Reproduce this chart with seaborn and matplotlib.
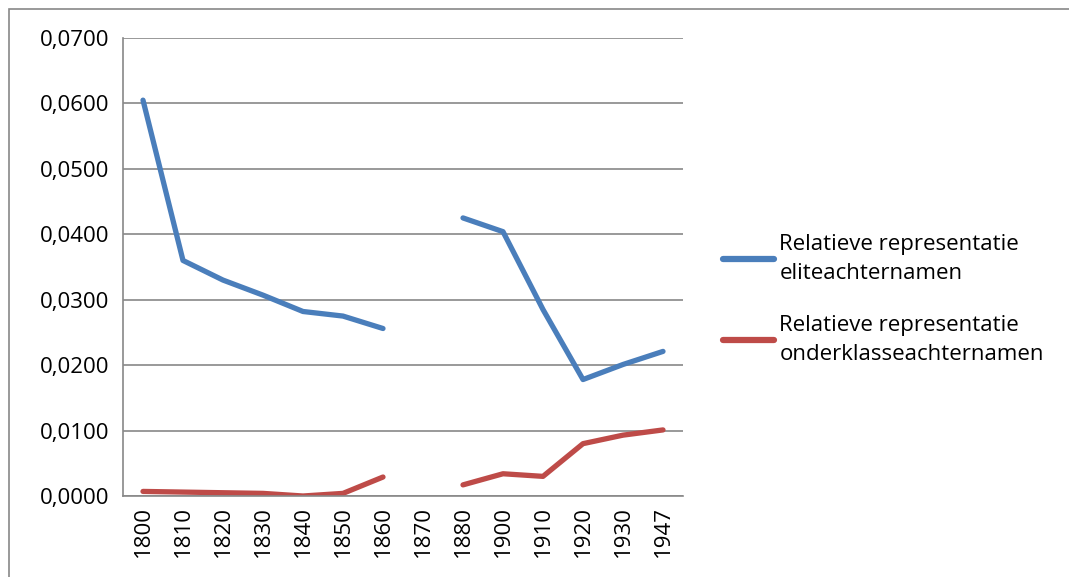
import matplotlib
matplotlib.use("Agg")
import matplotlib.pyplot as plt
import seaborn as sns
import pandas as pd
import numpy as np

# Data
jaren = ["1800", "1810", "1820", "1830", "1840", "1850", "1860", "1870",
         "1880", "1900", "1910", "1920", "1930", "1947"]
elite = [0.0605, 0.0360, 0.0330, 0.0307, 0.0282, 0.0275, 0.0256, np.nan,
         0.0425, 0.0404, 0.0285, 0.0178, 0.0201, 0.0221]
onderklasse = [0.0007, 0.0006, 0.0005, 0.0004, 0.0000, 0.0004, 0.0029, np.nan,
               0.0017, 0.0034, 0.0030, 0.0080, 0.0093, 0.0101]

label_elite = "Relatieve representatie\neliteachternamen"
label_onder = "Relatieve representatie\nonderklasseachternamen"

# Long form, with segment ids so the gap at 1870 stays open
rows = []
for naam, waarden in [(label_elite, elite), (label_onder, onderklasse)]:
    seg = 0
    for i, v in enumerate(waarden):
        if pd.isna(v):
            seg += 1
            continue
        rows.append({"pos": i, "waarde": v, "reeks": naam, "seg": seg})
df = pd.DataFrame(rows)

sns.set_style("white")
plt.rcParams['font.family'] = ['Open Sans', 'DejaVu Sans']
plt.rcParams['text.color'] = 'black'

fig = plt.figure(figsize=(10.69, 5.77), dpi=100)
ax = fig.add_axes([123 / 1069, 1 - 496 / 577, (683 - 123) / 1069, (496 - 38) / 577])

sns.lineplot(data=df, x="pos", y="waarde", hue="reeks", units="seg", estimator=None,
             palette=["#4A7EBB", "#BE4B48"], linewidth=3.8, ax=ax,
             solid_capstyle="round")

# Axes styling
ax.set_xlim(-0.5, len(jaren) - 0.5)
ax.set_ylim(0, 0.07)
ax.set_yticks(np.arange(0, 0.0701, 0.01))
ax.set_yticklabels([f"{v:.4f}".replace(".", ",") for v in np.arange(0, 0.0701, 0.01)],
                   fontsize=16, color="black")
ax.set_xticks(range(len(jaren)))
ax.set_xticklabels(jaren, rotation=90, fontsize=16, color="black")
ax.set_xticks(np.arange(-0.5, len(jaren), 1), minor=True)
ax.tick_params(axis="x", which="major", length=0, pad=7)
ax.tick_params(axis="x", which="minor", length=7, color="#888888", width=1.2)
ax.tick_params(axis="y", length=6, color="#888888", width=1.2, pad=4)
ax.set_xlabel("")
ax.set_ylabel("")
ax.grid(axis="y", color="#888888", linewidth=1.2)
ax.set_axisbelow(True)
for s in ["top", "right"]:
    ax.spines[s].set_visible(False)
for s in ["left", "bottom"]:
    ax.spines[s].set_color("#888888")
    ax.spines[s].set_linewidth(1.2)

# Legend on the right
handles, labels = ax.get_legend_handles_labels()
for h in handles:
    h.set_linewidth(4.5)
leg = ax.legend(handles, labels, loc="center left", bbox_to_anchor=(1.035, 0.43),
                frameon=False, fontsize=16, handlelength=2.3, handletextpad=0.25,
                labelspacing=1.4)
for t in leg.get_texts():
    t.set_linespacing(1.5)

# Outer chart border
fig.patches.append(plt.Rectangle((9 / 1069, -0.05), 1.1, 1 - 9 / 577 + 0.05,
                                 transform=fig.transFigure, fill=False,
                                 edgecolor="#888888", linewidth=1.2))

fig.savefig("out.png", dpi=100)
